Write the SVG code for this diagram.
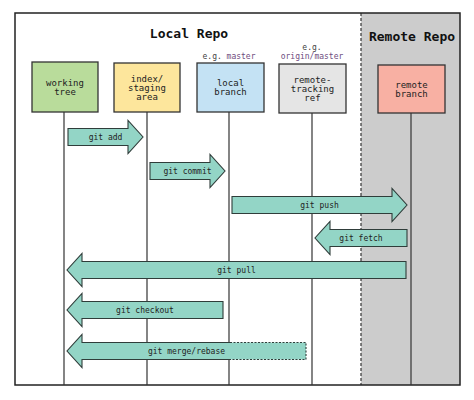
<svg xmlns="http://www.w3.org/2000/svg" width="474" height="400" viewBox="0 0 474 400">
<style>
.frame{fill:none;stroke:#222;stroke-width:1.5}
.box{stroke:#333;stroke-width:1.3}
.life{stroke:#333;stroke-width:1.2;fill:none}
.arr{fill:#93d5c6;stroke:#2f3d3a;stroke-width:1.1;stroke-linejoin:miter}
.lbl{font-family:"DejaVu Sans Mono","Liberation Mono",monospace;font-size:9px;fill:#222;text-anchor:middle}
.cmd{font-family:"DejaVu Sans Mono","Liberation Mono",monospace;font-size:8px;fill:#222;text-anchor:middle}
.eg{font-family:"DejaVu Sans Mono","Liberation Mono",monospace;font-size:8px;fill:#444;text-anchor:middle}
.pur{fill:#6e4c7e}
.title{font-family:"DejaVu Sans Mono","Liberation Mono",monospace;font-size:13px;font-weight:bold;fill:#111;text-anchor:middle}
</style>
<rect x="0" y="0" width="474" height="400" fill="#fff"/>
<g id="remote-area">
<rect x="361" y="13" width="99" height="372" fill="#cccccc"/>
<line x1="361" y1="13" x2="361" y2="385" stroke="#333" stroke-width="1.2" stroke-dasharray="3,2"/>
</g>
<rect class="frame" x="15" y="13" width="445" height="372"/>
<text class="title" x="189" y="38">Local Repo</text>
<text class="title" x="412" y="41">Remote Repo</text>
<g id="lifelines">
<line class="life" x1="64" y1="112" x2="64" y2="385"/>
<line class="life" x1="147" y1="112" x2="147" y2="385"/>
<line class="life" x1="229" y1="112" x2="229" y2="385"/>
<line class="life" x1="312" y1="113" x2="312" y2="385"/>
<line class="life" x1="411" y1="112" x2="411" y2="385"/>
</g>
<g id="working-tree">
<rect class="box" x="32" y="62" width="66" height="50" fill="#b9dc9b"/>
<text class="lbl" x="65" y="85.5">working</text>
<text class="lbl" x="65" y="94.5">tree</text>
</g>
<g id="index">
<rect class="box" x="114" y="63" width="66" height="49" fill="#fde69c"/>
<text class="lbl" x="147" y="82">index/</text>
<text class="lbl" x="147" y="91">staging</text>
<text class="lbl" x="147" y="100">area</text>
</g>
<g id="local-branch">
<text class="eg" x="229" y="59">e.g. <tspan class="pur">master</tspan></text>
<rect class="box" x="197" y="63" width="67" height="49" fill="#c4e2f4"/>
<text class="lbl" x="230.5" y="86">local</text>
<text class="lbl" x="230.5" y="95">branch</text>
</g>
<g id="remote-tracking-ref">
<text class="eg" x="312" y="50">e.g.</text>
<text class="eg pur" x="312" y="59">origin/master</text>
<rect class="box" x="279" y="64" width="67" height="49" fill="#e5e5e5"/>
<text class="lbl" x="312.5" y="83">remote-</text>
<text class="lbl" x="312.5" y="92">tracking</text>
<text class="lbl" x="312.5" y="101">ref</text>
</g>
<g id="remote-branch">
<rect class="box" x="378" y="65" width="67" height="48" fill="#f8b0a3"/>
<text class="lbl" x="411.5" y="88">remote</text>
<text class="lbl" x="411.5" y="97">branch</text>
</g>
<g id="connectors">
<path class="arr" d="M68,128.5 H128 V120.5 L143,137 L128,153.5 V145.5 H68 Z"/>
<text class="cmd" x="105.5" y="140">git add</text>
<path class="arr" d="M150,162.5 H210 V154.5 L225,171 L210,187.5 V179.5 H150 Z"/>
<text class="cmd" x="187.5" y="174">git commit</text>
<path class="arr" d="M232,196.5 H392 V188.5 L407,205 L392,221.5 V213.5 H232 Z"/>
<text class="cmd" x="319.5" y="208">git push</text>
<path class="arr" d="M407,229.5 H330 V221.5 L315,238 L330,254.5 V246.5 H407 Z"/>
<text class="cmd" x="361" y="241">git fetch</text>
<path class="arr" d="M406,261.5 H82 V253.5 L67,270 L82,286.5 V278.5 H406 Z"/>
<text class="cmd" x="236.5" y="273">git pull</text>
<path class="arr" d="M223,301.5 H82 V293.5 L67,310 L82,326.5 V318.5 H223 Z"/>
<text class="cmd" x="145" y="313">git checkout</text>
<path d="M306,342.5 H82 V334.5 L67,351 L82,367.5 V359.5 H306 Z" fill="#93d5c6"/>
<path d="M230,342.5 H82 V334.5 L67,351 L82,367.5 V359.5 H230" fill="none" stroke="#2f3d3a" stroke-width="1.1"/>
<path d="M230,342.5 H306 V359.5 H230" fill="none" stroke="#2f3d3a" stroke-width="1.1" stroke-dasharray="2,1.5"/>
<text class="cmd" x="186.5" y="354">git merge/rebase</text>
</g>
</svg>
